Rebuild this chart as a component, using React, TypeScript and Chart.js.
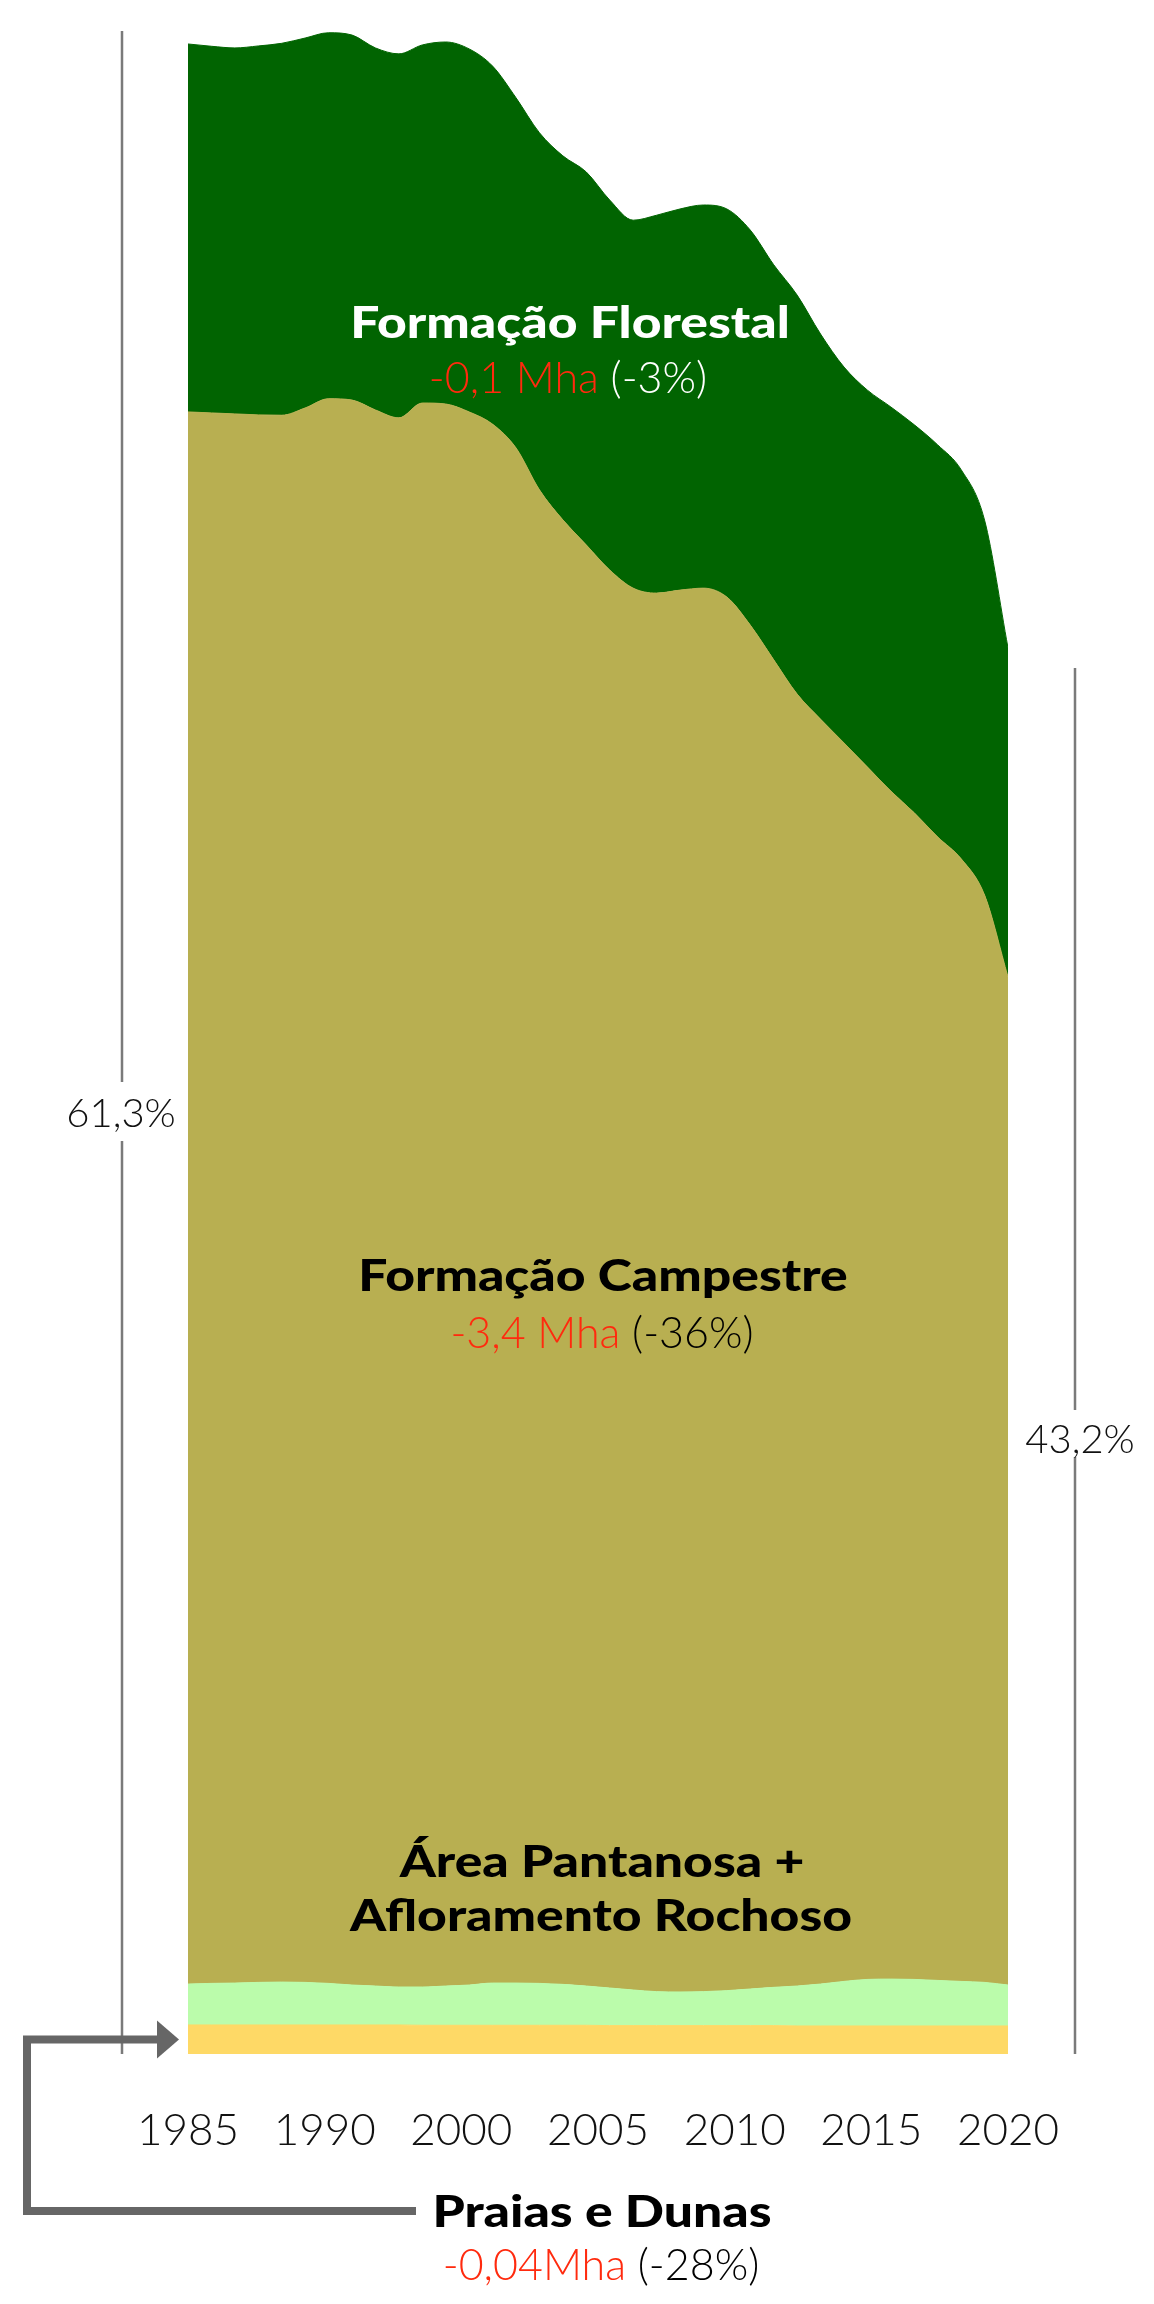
import React, { useEffect, useRef } from 'react';
import { Chart, registerables } from 'chart.js';

Chart.register(...registerables);

// ---------- data ----------
const years = [
  1985, 1986, 1987, 1988, 1989, 1990, 1991, 1992, 1993, 1994,
  1995, 1996, 1997, 1998, 1999, 2000, 2001, 2002, 2003, 2004,
  2005, 2006, 2007, 2008, 2009, 2010, 2011, 2012, 2013, 2014,
  2015, 2016, 2017, 2018, 2019, 2020,
];

const tickLabels = ['1985', '1990', '2000', '2005', '2010', '2015', '2020'];

// share of area (%), stacked bottom -> top
const praiasDunas = [
  0.88, 0.88, 0.88, 0.88, 0.88, 0.88, 0.88, 0.88, 0.88, 0.88,
  0.87, 0.87, 0.87, 0.87, 0.87, 0.87, 0.87, 0.87,
  0.86, 0.86, 0.86, 0.86, 0.86, 0.86, 0.86, 0.86,
  0.85, 0.85, 0.85, 0.85, 0.85, 0.85, 0.85, 0.85, 0.85, 0.85,
];

const pantanosaAfloramento = [
  1.24, 1.26, 1.27, 1.29, 1.30, 1.29, 1.26, 1.21, 1.18, 1.15,
  1.16, 1.19, 1.22, 1.28, 1.28, 1.27, 1.24, 1.19,
  1.14, 1.08, 1.03, 1.02, 1.03, 1.06, 1.11, 1.16,
  1.21, 1.27, 1.35, 1.41, 1.42, 1.41, 1.38, 1.35, 1.32, 1.24,
];

const formacaoCampestre = [
  47.64, 47.59, 47.55, 47.50, 47.48, 47.71, 48.02, 48.03, 47.76, 47.55,
  48.00, 47.94, 47.67, 47.24, 46.52, 45.26, 44.38, 43.67, 42.97, 42.48,
  42.38, 42.48, 42.53, 42.23, 41.33, 40.23, 39.15, 38.33, 37.53, 36.74,
  36.00, 35.35, 34.65, 34.02, 32.95, 30.55,
];

const formacaoFlorestal = [
  11.15, 11.11, 11.09, 11.18, 11.27, 11.21, 11.09, 11.06, 10.97, 11.03,
  10.85, 10.97, 11.00, 10.85, 10.61, 10.82, 11.03, 11.30, 11.21, 11.15,
  11.45, 11.55, 11.61, 11.76, 11.97, 11.97, 12.09, 11.67, 11.39, 11.42,
  11.64, 11.76, 11.88, 11.79, 11.36, 9.97,
];

const shareLabels = ['61,3%', '43,2%'];
const shareLineTops = [61.3, 42.0];

const classNames = ['Praias e Dunas', 'Área Pantanosa + Afloramento Rochoso', 'Formação Campestre', 'Formação Florestal'];
const changeMha = ['-0,04Mha', '', '-3,4 Mha', '-0,1 Mha'];
const changePct = ['(-28%)', '', '(-36%)', '(-3%)'];

// ---------- styles ----------
const COLORS = ['#FED966', '#BBFCAB', '#B8AF51', '#016401'];
const FONT = 'Lato, "Noto Sans", "DejaVu Sans", sans-serif';
const RED = '#FF2A0E';
const STRETCH = 1.2;

function drawMixed(
  ctx: CanvasRenderingContext2D,
  parts: [string, string][],
  cx: number,
  baseline: number,
  font: string,
) {
  ctx.font = font;
  const widths = parts.map(([t]) => ctx.measureText(t).width);
  const total = widths.reduce((a, b) => a + b, 0);
  let x = cx - total / 2;
  ctx.textAlign = 'left';
  ctx.textBaseline = 'alphabetic';
  parts.forEach(([t, c], i) => {
    ctx.fillStyle = c;
    ctx.fillText(t, x, baseline);
    x += widths[i];
  });
}

function drawBold(ctx: CanvasRenderingContext2D, text: string, cx: number, baseline: number, color: string) {
  ctx.save();
  ctx.font = `900 43px ${FONT}`;
  ctx.fillStyle = color;
  ctx.textAlign = 'center';
  ctx.textBaseline = 'alphabetic';
  ctx.translate(cx, baseline);
  ctx.scale(STRETCH, 1);
  ctx.fillText(text, 0, 0);
  ctx.restore();
}

const annotationPlugin = {
  id: 'annotations',
  afterDraw(chart: any) {
    const { ctx, chartArea, scales } = chart;
    const y = scales.y;
    const y0 = y.getPixelForValue(0);
    ctx.save();

    // share lines with labels
    const lines = [
      { x: chartArea.left - 66, top: y.getPixelForValue(shareLineTops[0]), gapA: 1082, gapB: 1141, label: shareLabels[0], lx: 121, ly: 1127 },
      { x: chartArea.right + 67, top: y.getPixelForValue(shareLineTops[1]), gapA: 1410, gapB: 1457, label: shareLabels[1], lx: 1080, ly: 1453 },
    ];
    ctx.strokeStyle = '#7a7a7a';
    ctx.lineWidth = 2.5;
    lines.forEach((l) => {
      ctx.beginPath();
      ctx.moveTo(l.x, l.top);
      ctx.lineTo(l.x, l.gapA);
      ctx.moveTo(l.x, l.gapB);
      ctx.lineTo(l.x, y0);
      ctx.stroke();
      ctx.font = `300 40px ${FONT}`;
      ctx.fillStyle = '#111';
      ctx.textAlign = 'center';
      ctx.textBaseline = 'alphabetic';
      ctx.fillText(l.label, l.lx, l.ly);
    });

    // bracket arrow to Praias e Dunas band
    const ay = y.getPixelForValue(praiasDunas[0] / 2);
    const bx = 27;
    const by = 2211;
    ctx.strokeStyle = '#666';
    ctx.lineWidth = 8;
    ctx.lineJoin = 'miter';
    ctx.beginPath();
    ctx.moveTo(416, by);
    ctx.lineTo(bx, by);
    ctx.lineTo(bx, ay);
    ctx.lineTo(160, ay);
    ctx.stroke();
    ctx.fillStyle = '#666';
    ctx.beginPath();
    ctx.moveTo(157, ay - 19);
    ctx.lineTo(179, ay);
    ctx.lineTo(157, ay + 19);
    ctx.closePath();
    ctx.fill();

    // class labels
    const light = `300 43px ${FONT}`;

    drawBold(ctx, classNames[3], 570, 338, '#ffffff');
    drawMixed(ctx, [[changeMha[3], RED], [' ' + changePct[3], '#ffffff']], 568, 393, light);

    drawBold(ctx, classNames[2], 603, 1291, '#000');
    drawMixed(ctx, [[changeMha[2], RED], [' ' + changePct[2], '#000']], 602, 1348, light);

    drawBold(ctx, 'Área Pantanosa +', 602, 1877, '#000');
    drawBold(ctx, 'Afloramento Rochoso', 601, 1931, '#000');

    drawBold(ctx, classNames[0], 602, 2227, '#000');
    drawMixed(ctx, [[changeMha[0], RED], [' ' + changePct[0], '#000']], 601, 2280, light);

    ctx.restore();
  },
};

export default function App() {
  const ref = useRef<HTMLCanvasElement | null>(null);

  useEffect(() => {
    if (!ref.current) return;
    const series = [praiasDunas, pantanosaAfloramento, formacaoCampestre, formacaoFlorestal];
    const chart = new Chart(ref.current, {
      type: 'line',
      data: {
        datasets: series.map((vals, i) => ({
          label: classNames[i],
          data: vals.map((v, k) => ({ x: years[k], y: v })),
          backgroundColor: COLORS[i],
          borderColor: COLORS[i],
          borderWidth: 1,
          pointRadius: 0,
          fill: i === 0 ? 'origin' : '-1',
          cubicInterpolationMode: 'monotone' as const,
        })),
      },
      options: {
        responsive: false,
        animation: false,
        devicePixelRatio: 1,
        layout: { padding: { left: 188, right: 146, top: 8, bottom: 140 } },
        plugins: { legend: { display: false }, tooltip: { enabled: false } },
        scales: {
          x: { type: 'linear', min: 1985, max: 2020, display: false },
          xl: {
            type: 'category',
            axis: 'x',
            position: 'bottom',
            labels: tickLabels,
            offset: false,
            grid: { display: false, drawTicks: false },
            border: { display: false },
            afterFit: (scale: any) => {
              scale.height = 110;
            },
            ticks: {
              padding: 50,
              color: '#111',
              font: { family: FONT, size: 44, weight: '300' },
              maxRotation: 0,
              autoSkip: false,
            },
          },
          y: { type: 'linear', stacked: true, min: 0, max: 62, display: false },
        },
      },
      plugins: [annotationPlugin],
    } as any);
    return () => chart.destroy();
  }, []);

  return (
    <div style={{ position: 'absolute', left: 0, top: 0, width: 1154, height: 2304, background: '#fff' }}>
      <canvas ref={ref} width={1154} height={2304} style={{ display: 'block', width: 1154, height: 2304 }} />
    </div>
  );
}
